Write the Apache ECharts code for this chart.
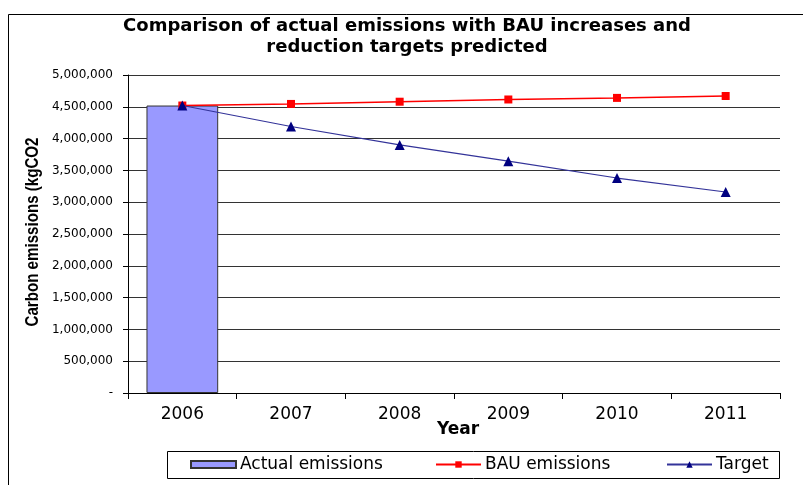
<!DOCTYPE html>
<html>
<head>
<meta charset="utf-8">
<script src="https://cdn.jsdelivr.net/npm/echarts@6/dist/echarts.min.js"></script>
<style>html,body{margin:0;padding:0;background:#fff;}#c{width:803px;height:485px;}</style>
</head>
<body>
<div id="c"></div>
<script>
var years = ['2006', '2007', '2008', '2009', '2010', '2011'];
var actualEmissions = [4520000, null, null, null, null, null];
var bauEmissions = [4520000, 4545000, 4580000, 4615000, 4640000, 4670000];
var targetEmissions = [4520000, 4190000, 3900000, 3645000, 3380000, 3160000];
var yTicks = [0, 500000, 1000000, 1500000, 2000000, 2500000, 3000000, 3500000, 4000000, 4500000, 5000000];
var yTitle = 'Carbon emissions (kgCO2';

var chart = echarts.init(document.getElementById('c'), null, {renderer: 'canvas'});
var font = 'DejaVu Sans';
function fmt(v) {
  if (v === 0) return '-';
  return v.toString().replace(/\B(?=(\d{3})+(?!\d))/g, ',');
}
var legendCommon = {
  orient: 'horizontal', top: 456, itemWidth: 45, itemHeight: 8, padding: 0, itemGap: 0,
  textStyle: {fontFamily: font, fontSize: 17, color: '#000', padding: [0, 0, 0, -1]},
  selectedMode: false
};
chart.setOption({
  animation: false,
  backgroundColor: '#fff',
  graphic: [
    {type: 'rect', shape: {x: 8.5, y: 14.5, width: 1000, height: 800}, style: {fill: 'none', stroke: '#000', lineWidth: 1}, z: -10, silent: true},
    {type: 'rect', shape: {x: 167.5, y: 451.5, width: 612, height: 27}, style: {fill: 'none', stroke: '#000', lineWidth: 1}, silent: true},
    {type: 'text', x: 407, y: 37, style: {text: 'Comparison of actual emissions with BAU increases and\nreduction targets predicted', fontFamily: font, fontWeight: 'bold', fontSize: 18, lineHeight: 21, fill: '#000', textAlign: 'center', textVerticalAlign: 'middle'}, silent: true},
    {type: 'text', x: 458, y: 430, style: {text: 'Year', fontFamily: font, fontWeight: 'bold', fontSize: 17, fill: '#000', textAlign: 'center', textVerticalAlign: 'middle'}, silent: true},
    {type: 'text', x: 33, y: 232, rotation: Math.PI / 2, scaleX: 0.84, scaleY: 1,
      style: {text: yTitle, fontFamily: 'Liberation Sans', fontWeight: 'bold', fontSize: 18, fill: '#000', textAlign: 'center', textVerticalAlign: 'middle'}, silent: true}
  ],
  grid: {left: 128, right: 23, top: 75, bottom: 92, containLabel: false},
  legend: [
    Object.assign({}, legendCommon, {left: 190, icon: 'rect', itemHeight: 7, data: ['Actual emissions']}),
    Object.assign({}, legendCommon, {left: 435, data: ['BAU emissions']}),
    Object.assign({}, legendCommon, {left: 666, data: ['Target']})
  ],
  xAxis: {
    type: 'category', data: years, boundaryGap: true,
    axisLine: {show: true, lineStyle: {color: '#000', width: 1}},
    axisTick: {show: true, alignWithLabel: false, length: 6, lineStyle: {color: '#000'}},
    axisLabel: {fontFamily: font, fontSize: 17, color: '#000', margin: 13},
    splitLine: {show: false}
  },
  yAxis: {
    type: 'value', min: 0, max: 5000000, interval: 500000,
    axisLine: {show: true, lineStyle: {color: '#000', width: 1}},
    axisTick: {show: true, length: 5, lineStyle: {color: '#000'}},
    axisLabel: {fontFamily: font, fontSize: 12, color: '#000', margin: 15, formatter: fmt},
    splitLine: {show: true, lineStyle: {color: '#333', width: 1}}
  },
  series: [
    {name: 'Actual emissions', type: 'bar', data: actualEmissions, barWidth: '66%',
      itemStyle: {color: '#9999FF', borderColor: '#333', borderWidth: 1}, z: 1},
    {name: 'BAU emissions', type: 'line', data: bauEmissions, symbol: 'rect', symbolSize: 8,
      lineStyle: {color: '#FF0000', width: 1.5}, itemStyle: {color: '#FF0000'}, z: 3},
    {name: 'Target', type: 'line', data: targetEmissions, symbol: 'triangle', symbolSize: 10,
      lineStyle: {color: '#333399', width: 1.2}, itemStyle: {color: '#000080'}, z: 4}
  ]
});
</script>
</body>
</html>
